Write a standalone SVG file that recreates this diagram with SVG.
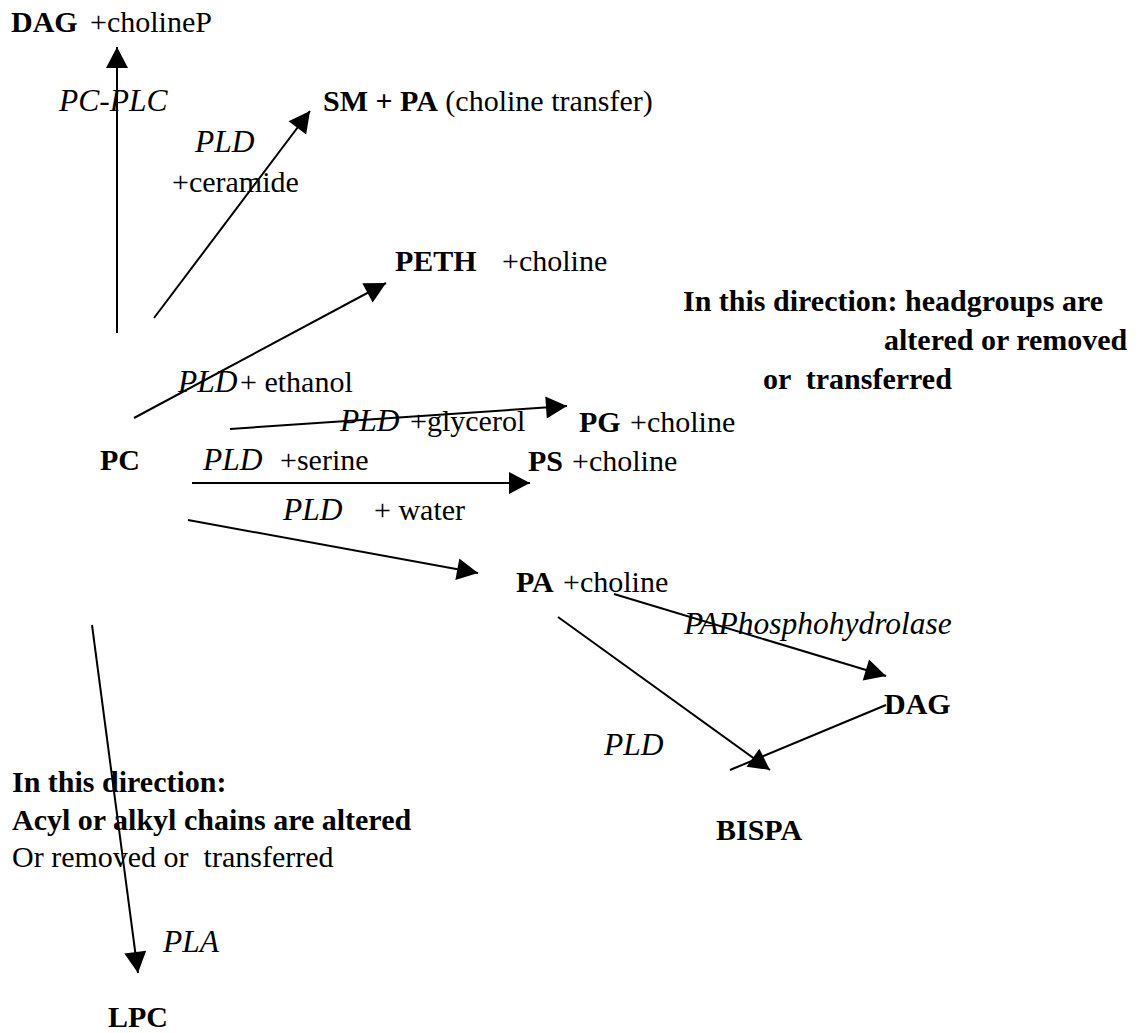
<svg xmlns="http://www.w3.org/2000/svg" width="1144" height="1033" viewBox="0 0 1144 1033" font-family="'Liberation Serif', 'Times New Roman', 'DejaVu Serif', serif">
<style>
text{font-family:'Liberation Serif','Times New Roman','DejaVu Serif',serif;font-size:30px;fill:#000;white-space:pre}
.b{font-weight:bold}
.i{font-style:italic;font-size:31.5px}
.c{stroke:#000;stroke-width:2;fill:none}
.a{marker-end:url(#ah)}
</style>
<defs>
<marker id="ah" markerUnits="userSpaceOnUse" markerWidth="22" markerHeight="22" refX="21" refY="11" orient="auto" overflow="visible">
<path d="M0,0 L21,11 L0,22 z" fill="#000"/>
</marker>
</defs>
<rect width="1144" height="1033" fill="#fff"/>
<g id="connectors">
<line class="c a" x1="117" y1="333" x2="117" y2="47"/>
<line class="c a" x1="154" y1="318" x2="310" y2="111"/>
<line class="c a" x1="134" y1="418" x2="386" y2="283"/>
<line class="c a" x1="230" y1="429" x2="567" y2="406"/>
<line class="c a" x1="192" y1="483" x2="530" y2="483"/>
<line class="c a" x1="188" y1="520" x2="478" y2="573"/>
<line class="c a" x1="614" y1="594" x2="886" y2="676"/>
<line class="c a" x1="558" y1="617" x2="770" y2="770"/>
<line class="c" x1="886" y1="705" x2="730" y2="770"/>
<line class="c a" x1="92" y1="625" x2="138" y2="973"/>
</g>
<g id="dag-top"><text x="11" y="32"><tspan class="b">DAG</tspan><tspan x="90">+cholineP</tspan></text></g>
<g id="lbl-pcplc"><text class="i" x="59" y="111">PC-PLC</text></g>
<g id="sm-pa"><text x="323" y="111"><tspan class="b">SM + PA</tspan> (choline transfer)</text></g>
<g id="lbl-pld-ceramide"><text class="i" x="195" y="152">PLD</text><text x="172" y="192">+ceramide</text></g>
<g id="peth"><text x="395" y="271"><tspan class="b">PETH</tspan><tspan x="502">+choline</tspan></text></g>
<g id="note-headgroups">
<text class="b" x="683" y="311">In this direction: headgroups are</text>
<text class="b" x="884" y="350">altered or removed</text>
<text class="b" x="763" y="389">or  transferred</text>
</g>
<g id="lbl-pld-ethanol"><text x="178" y="392"><tspan class="i">PLD</tspan><tspan x="240">+ ethanol</tspan></text></g>
<g id="lbl-pld-glycerol"><text x="340" y="431"><tspan class="i">PLD</tspan><tspan x="410">+glycerol</tspan></text></g>
<g id="pg"><text x="579" y="432"><tspan class="b">PG</tspan><tspan x="630">+choline</tspan></text></g>
<g id="pc"><text class="b" x="100" y="470">PC</text></g>
<g id="lbl-pld-serine"><text x="203" y="470"><tspan class="i">PLD</tspan><tspan x="280">+serine</tspan></text></g>
<g id="ps"><text x="528" y="471"><tspan class="b">PS</tspan><tspan x="572">+choline</tspan></text></g>
<g id="lbl-pld-water"><text x="283" y="520"><tspan class="i">PLD</tspan><tspan x="374">+ water</tspan></text></g>
<g id="pa"><text x="516" y="592"><tspan class="b">PA</tspan><tspan x="563">+choline</tspan></text></g>
<g id="lbl-paphos"><text class="i" x="684" y="634">PAPhosphohydrolase</text></g>
<g id="dag"><text class="b" x="884" y="714">DAG</text></g>
<g id="lbl-pld-bispa"><text class="i" x="604" y="755">PLD</text></g>
<g id="bispa"><text class="b" x="716" y="840">BISPA</text></g>
<g id="note-acyl">
<text class="b" x="12" y="792">In this direction:</text>
<text class="b" x="12" y="830">Acyl or alkyl chains are altered</text>
<text x="12" y="867">Or removed or  transferred</text>
</g>
<g id="lbl-pla"><text class="i" x="163" y="952">PLA</text></g>
<g id="lpc"><text class="b" x="108" y="1027">LPC</text></g>
</svg>
